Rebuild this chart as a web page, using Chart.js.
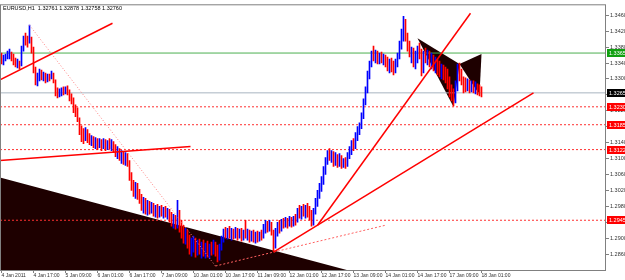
<!DOCTYPE html>
<html>
<head>
<meta charset="utf-8">
<script src="https://cdn.jsdelivr.net/npm/chart.js@4.4.0/dist/chart.umd.min.js"></script>
<style>
  html, body { margin: 0; padding: 0; background: #fff; }
</style>
</head>
<body>
<canvas id="chart" width="625" height="280"></canvas>
<script>
// EURUSD H1, 4 Jan 2011 01:00 .. 18 Jan 2011 01:00 (one entry per hour bar)
const headerText = 'EURUSD,H1  1.32761 1.32878 1.32758 1.32760';
const timeLabels = ['4 Jan 2011', '4 Jan 17:00', '5 Jan 09:00', '6 Jan 01:00', '6 Jan 17:00',
  '7 Jan 09:00', '10 Jan 01:00', '10 Jan 17:00', '11 Jan 09:00', '12 Jan 01:00', '12 Jan 17:00',
  '13 Jan 09:00', '14 Jan 01:00', '14 Jan 17:00', '17 Jan 09:00', '18 Jan 01:00'];
const labelEvery = 16;

const firstOpen = 1.33575;
const highs = [
  1.33650, 1.33600, 1.33625, 1.33700, 1.33750, 1.33675, 1.33625, 1.33525, 1.33500, 1.33450,
  1.33825, 1.34075, 1.34150, 1.34075, 1.34350, 1.34050, 1.33800, 1.33300, 1.33150, 1.33250,
  1.33225, 1.33175, 1.33150, 1.33125, 1.33125, 1.33200, 1.33150, 1.32975, 1.32775, 1.32750,
  1.32775, 1.32800, 1.32800, 1.32825, 1.32725, 1.32625, 1.32525, 1.32350, 1.32275, 1.32025,
  1.31825, 1.31750, 1.31775, 1.31725, 1.31625, 1.31575, 1.31550, 1.31525, 1.31500, 1.31500,
  1.31475, 1.31500, 1.31475, 1.31450, 1.31500, 1.31475, 1.31425, 1.31350, 1.31300, 1.31250,
  1.31200, 1.31175, 1.31150, 1.31125, 1.30950, 1.30650, 1.30450, 1.30400, 1.30375, 1.30225,
  1.30100, 1.30025, 1.30000, 1.29950, 1.29925, 1.29900, 1.29875, 1.29825, 1.29850, 1.29800,
  1.29825, 1.29775, 1.29800, 1.29750, 1.29725, 1.29650, 1.29600, 1.29575, 1.29950, 1.29700,
  1.29450, 1.29325, 1.29250, 1.29200, 1.29075, 1.29000, 1.29050, 1.29000, 1.28950, 1.28975,
  1.28900, 1.28950, 1.28875, 1.28925, 1.28850, 1.28900, 1.28950, 1.28900, 1.28825, 1.28850,
  1.29050, 1.29225, 1.29275, 1.29250, 1.29300, 1.29250, 1.29225, 1.29275, 1.29250, 1.29225,
  1.29250, 1.29200, 1.29450, 1.29225, 1.29200, 1.29175, 1.29200, 1.29150, 1.29175, 1.29150,
  1.29200, 1.29350, 1.29450, 1.29425, 1.29450, 1.29400, 1.29200, 1.29250, 1.29400, 1.29450,
  1.29475, 1.29500, 1.29525, 1.29500, 1.29550, 1.29525, 1.29550, 1.29600, 1.29750, 1.29825,
  1.29800, 1.29850, 1.29825, 1.29875, 1.29800, 1.29700, 1.29750, 1.30000, 1.30200, 1.30375,
  1.30550, 1.30800, 1.31025, 1.31200, 1.31250, 1.31200, 1.31175, 1.31150, 1.31100, 1.31125,
  1.31075, 1.31000, 1.31025, 1.31150, 1.31300, 1.31450, 1.31500, 1.31650, 1.31800, 1.31900,
  1.32150, 1.32500, 1.32800, 1.33200, 1.33450, 1.33700, 1.33825, 1.33725, 1.33700, 1.33650,
  1.33675, 1.33625, 1.33600, 1.33550, 1.33500, 1.33525, 1.33450, 1.33500, 1.33650, 1.33950,
  1.34250, 1.34575, 1.34500, 1.34150, 1.33950, 1.33800, 1.33775, 1.33700, 1.33825, 1.33900,
  1.33750, 1.33700, 1.33775, 1.33725, 1.33700, 1.33650, 1.33600, 1.33550, 1.33500, 1.33450,
  1.33375, 1.33350, 1.33300, 1.33250, 1.33050, 1.32850, 1.32750, 1.32950, 1.33375, 1.33400,
  1.33250, 1.33050, 1.33025, 1.33000, 1.32975, 1.32950, 1.32950, 1.32925, 1.32875, 1.32850,
  1.32800
];
const lows = [
  1.33375, 1.33350, 1.33450, 1.33500, 1.33500, 1.33450, 1.33350, 1.33300, 1.33275, 1.33250,
  1.33325, 1.33700, 1.33850, 1.33800, 1.33900, 1.33650, 1.33150, 1.32850, 1.32825, 1.32950,
  1.32975, 1.32950, 1.32900, 1.32925, 1.32950, 1.33000, 1.32900, 1.32575, 1.32525, 1.32550,
  1.32575, 1.32600, 1.32625, 1.32600, 1.32450, 1.32375, 1.32150, 1.32050, 1.31925, 1.31600,
  1.31425, 1.31375, 1.31450, 1.31400, 1.31350, 1.31325, 1.31275, 1.31250, 1.31225, 1.31275,
  1.31200, 1.31250, 1.31200, 1.31225, 1.31250, 1.31200, 1.31150, 1.31050, 1.31000, 1.30950,
  1.30875, 1.30850, 1.30825, 1.30800, 1.30450, 1.30200, 1.30050, 1.30000, 1.29975, 1.29875,
  1.29700, 1.29625, 1.29600, 1.29575, 1.29600, 1.29625, 1.29550, 1.29525, 1.29500, 1.29525,
  1.29550, 1.29500, 1.29525, 1.29475, 1.29400, 1.29300, 1.29250, 1.29225, 1.29250, 1.29150,
  1.29000, 1.28875, 1.28850, 1.28750, 1.28600, 1.28550, 1.28650, 1.28525, 1.28575, 1.28600,
  1.28500, 1.28550, 1.28500, 1.28525, 1.28500, 1.28575, 1.28600, 1.28550, 1.28400, 1.28450,
  1.28700, 1.28900, 1.29000, 1.28975, 1.29000, 1.28950, 1.28975, 1.29000, 1.28950, 1.29000,
  1.28925, 1.28950, 1.29000, 1.28950, 1.28900, 1.28925, 1.28900, 1.28875, 1.28900, 1.28925,
  1.28950, 1.29000, 1.29125, 1.29150, 1.29175, 1.29075, 1.28675, 1.28750, 1.29050, 1.29125,
  1.29175, 1.29250, 1.29275, 1.29250, 1.29300, 1.29275, 1.29300, 1.29325, 1.29400, 1.29500,
  1.29475, 1.29550, 1.29500, 1.29525, 1.29450, 1.29300, 1.29325, 1.29600, 1.29800, 1.30000,
  1.30175, 1.30350, 1.30600, 1.30850, 1.30950, 1.30900, 1.30800, 1.30825, 1.30775, 1.30800,
  1.30750, 1.30775, 1.30750, 1.30800, 1.31000, 1.31100, 1.31200, 1.31250, 1.31450, 1.31600,
  1.31750, 1.32000, 1.32350, 1.32650, 1.33000, 1.33300, 1.33450, 1.33400, 1.33375, 1.33375,
  1.33400, 1.33350, 1.33300, 1.33200, 1.33150, 1.33175, 1.33100, 1.33150, 1.33300, 1.33500,
  1.33750, 1.33950, 1.33950, 1.33700, 1.33550, 1.33400, 1.33300, 1.33250, 1.33400, 1.33500,
  1.33075, 1.33150, 1.33400, 1.33350, 1.33300, 1.33250, 1.33200, 1.33150, 1.33100, 1.33050,
  1.33000, 1.32975, 1.32900, 1.32750, 1.32550, 1.32450, 1.32325, 1.32400, 1.32700, 1.32950,
  1.32850, 1.32650, 1.32675, 1.32700, 1.32650, 1.32675, 1.32650, 1.32625, 1.32600, 1.32575,
  1.32550
];
const closes = [
  1.33450, 1.33550, 1.33575, 1.33650, 1.33700, 1.33525, 1.33450, 1.33375, 1.33400, 1.33350,
  1.33800, 1.34000, 1.33950, 1.33900, 1.34050, 1.33750, 1.33200, 1.32950, 1.33050, 1.33175,
  1.33050, 1.33100, 1.33000, 1.33075, 1.33025, 1.33100, 1.32950, 1.32650, 1.32600, 1.32700,
  1.32725, 1.32700, 1.32750, 1.32650, 1.32550, 1.32450, 1.32250, 1.32150, 1.32000, 1.31700,
  1.31525, 1.31475, 1.31675, 1.31500, 1.31425, 1.31500, 1.31375, 1.31450, 1.31325, 1.31425,
  1.31300, 1.31400, 1.31275, 1.31375, 1.31325, 1.31350, 1.31225, 1.31150, 1.31200, 1.31025,
  1.31075, 1.30950, 1.31050, 1.30875, 1.30550, 1.30300, 1.30200, 1.30300, 1.30075, 1.30000,
  1.29800, 1.29900, 1.29700, 1.29825, 1.29750, 1.29800, 1.29650, 1.29725, 1.29600, 1.29700,
  1.29650, 1.29675, 1.29600, 1.29650, 1.29500, 1.29400, 1.29475, 1.29325, 1.29650, 1.29250,
  1.29100, 1.29000, 1.29050, 1.28825, 1.28700, 1.28875, 1.28950, 1.28650, 1.28850, 1.28700,
  1.28800, 1.28675, 1.28750, 1.28625, 1.28775, 1.28700, 1.28825, 1.28650, 1.28500, 1.28750,
  1.28950, 1.29150, 1.29100, 1.29175, 1.29075, 1.29150, 1.29050, 1.29200, 1.29025, 1.29125,
  1.29000, 1.29100, 1.29050, 1.29150, 1.29000, 1.29100, 1.28975, 1.29050, 1.28950, 1.29075,
  1.29025, 1.29250, 1.29350, 1.29225, 1.29375, 1.29150, 1.28800, 1.29150, 1.29325, 1.29225,
  1.29400, 1.29325, 1.29450, 1.29350, 1.29475, 1.29375, 1.29500, 1.29450, 1.29675, 1.29600,
  1.29725, 1.29650, 1.29750, 1.29600, 1.29550, 1.29400, 1.29650, 1.29925, 1.30100, 1.30300,
  1.30475, 1.30700, 1.30950, 1.31075, 1.31025, 1.31100, 1.30900, 1.31050, 1.30850, 1.31000,
  1.30825, 1.30925, 1.30850, 1.31100, 1.31225, 1.31375, 1.31275, 1.31575, 1.31725, 1.31825,
  1.32075, 1.32450, 1.32750, 1.33125, 1.33375, 1.33625, 1.33550, 1.33650, 1.33475, 1.33575,
  1.33500, 1.33550, 1.33400, 1.33300, 1.33375, 1.33250, 1.33200, 1.33400, 1.33575, 1.33875,
  1.34150, 1.34450, 1.34050, 1.33800, 1.33650, 1.33700, 1.33400, 1.33550, 1.33750, 1.33600,
  1.33200, 1.33575, 1.33500, 1.33575, 1.33400, 1.33500, 1.33300, 1.33400, 1.33200, 1.33150,
  1.33250, 1.33050, 1.33000, 1.32850, 1.32650, 1.32550, 1.32450, 1.32850, 1.33300, 1.33050,
  1.32950, 1.32900, 1.32800, 1.32900, 1.32750, 1.32850, 1.32750, 1.32825, 1.32750, 1.32700,
  1.32650
];

const priceTicks = [1.3460, 1.3420, 1.3380, 1.3340, 1.3300, 1.3260, 1.3220, 1.3180,
  1.3140, 1.3100, 1.3060, 1.3020, 1.2980, 1.2940, 1.2900, 1.2860];
const greenLevel = 1.33650;
const redLevels = [1.32300, 1.31850, 1.31225, 1.29450];

// drawn objects, points as [bar index, price]
const upperTrend = [[-0.75, 1.32975], [55.5, 1.34400]];
const middleTrend = [[-0.75, 1.30950], [94.5, 1.31300]];
const fallDotted = [[14, 1.34350], [107, 1.28300]];
const riseDotted = [[107, 1.28300], [192, 1.29325]];
const fanLow = [[136, 1.28650], [266, 1.32650]];
const fanSteep = [[158, 1.29325], [234.5, 1.34650]];
const wedge = [[-0.75, 1.30525], [174.5, 1.28175], [174.5, 1.27500], [-0.75, 1.27500], [-0.75, 1.30525]];
const patternXAB = [[208, 1.34025], [226, 1.32300], [229, 1.33375], [208, 1.34025]];
const patternBCD = [[229, 1.33375], [240, 1.33625], [239, 1.32600], [229, 1.33375]];

const xMin = -0.75, xMax = 302.25;
const yMin = 1.28175, yMax = 1.34875;
const fontFamily = '"Liberation Sans Narrow", "Liberation Sans", sans-serif';
const axisFontX = { family: fontFamily, size: 5 };
const axisFontY = { family: fontFamily, size: 5.5 };
const tagFontCss = '5.5px ' + fontFamily;

const pts = arr => arr.map(([x, y]) => ({ x, y }));
const lastClose = closes[closes.length - 1];

const barColors = closes.map((c, i) => {
  const open = i === 0 ? firstOpen : closes[i - 1];
  return c >= open ? '#0000ff' : '#ff0000';
});

function hLine(value, color, dash) {
  return {
    type: 'line', data: pts([[xMin, value], [xMax, value]]),
    borderColor: color, borderWidth: 1, borderDash: dash || [],
    pointRadius: 0, fill: false, order: 8
  };
}
function trend(points, color, width, dash) {
  return {
    type: 'line', data: pts(points), borderColor: color, borderWidth: width,
    borderDash: dash || [], pointRadius: 0, fill: false, tension: 0, order: 1
  };
}
function shape(points, color, order) {
  return {
    type: 'line', data: pts(points), borderWidth: 0, borderColor: color,
    backgroundColor: color, pointRadius: 0, fill: 'shape', tension: 0, clip: 0, order
  };
}

const frameAndTags = {
  id: 'frameAndTags',
  afterDraw(chart) {
    const { ctx, chartArea: a } = chart;
    const y = chart.scales.y;
    ctx.save();
    ctx.strokeStyle = '#808080';
    ctx.lineWidth = 1;
    ctx.strokeRect(a.left + 0.5, a.top + 0.5, a.right - a.left - 1, a.bottom - a.top - 1);

    ctx.font = tagFontCss;
    ctx.textBaseline = 'middle';
    const tag = (v, bg) => {
      const py = Math.round(y.getPixelForValue(v));
      ctx.fillStyle = bg;
      ctx.fillRect(a.right + 1, py - 4, chart.width - a.right, 8);
      ctx.fillStyle = '#ffffff';
      ctx.fillText(v.toFixed(5), a.right + 3, py);
    };
    tag(greenLevel, '#10a010');
    tag(lastClose, '#000000');
    redLevels.forEach(v => tag(v, '#ff0000'));

    ctx.fillStyle = '#000000';
    ctx.fillText(headerText, a.left + 3, a.top + 4);
    ctx.restore();
  }
};

new Chart(document.getElementById('chart'), {
  type: 'bar',
  data: {
    datasets: [
      shape(wedge, '#1e0000', 10),
      shape(patternXAB, '#1e0000', 9),
      shape(patternBCD, '#1e0000', 9),
      hLine(greenLevel, '#4caf50'),
      hLine(lastClose, '#a8b4c0'),
      ...redLevels.map(v => hLine(v, '#ff3030', [2, 2])),
      {
        type: 'bar',
        data: highs.map((h, i) => ({ x: i, y: [lows[i], h] })),
        backgroundColor: barColors,
        borderWidth: 0,
        barThickness: 1,
        order: 5
      },
      trend(upperTrend, '#ff0000', 1.5),
      trend(middleTrend, '#ff0000', 1.5),
      trend(fanLow, '#ff0000', 1.5),
      trend(fanSteep, '#ff0000', 1.5),
      trend(fallDotted, '#ff8080', 1, [1, 2]),
      trend(riseDotted, '#ff6060', 1, [2, 2])
    ]
  },
  options: {
    responsive: false,
    animation: false,
    devicePixelRatio: 1,
    layout: { padding: { top: 3, left: 0, right: 0, bottom: 0 } },
    plugins: { legend: { display: false }, tooltip: { enabled: false } },
    scales: {
      x: {
        type: 'linear', min: xMin, max: xMax, offset: false,
        afterBuildTicks: s => { s.ticks = timeLabels.map((t, k) => ({ value: k * labelEvery })); },
        afterFit: s => { s.height = 9; },
        ticks: {
          callback: (v, i) => timeLabels[i], align: 'start', maxRotation: 0,
          autoSkip: false, padding: 0, font: axisFontX, color: '#303030'
        },
        grid: { display: true, drawOnChartArea: false, tickLength: 2, color: '#808080', offset: false },
        border: { display: false }
      },
      y: {
        type: 'linear', position: 'right', min: yMin, max: yMax,
        afterBuildTicks: s => { s.ticks = priceTicks.map(v => ({ value: v })); },
        afterFit: s => { s.width = 19; },
        ticks: { callback: v => v.toFixed(5), padding: 1, font: axisFontY, color: '#303030' },
        grid: { drawOnChartArea: false, tickLength: 3, color: '#808080' },
        border: { display: false }
      }
    }
  },
  plugins: [frameAndTags]
});
</script>
</body>
</html>
